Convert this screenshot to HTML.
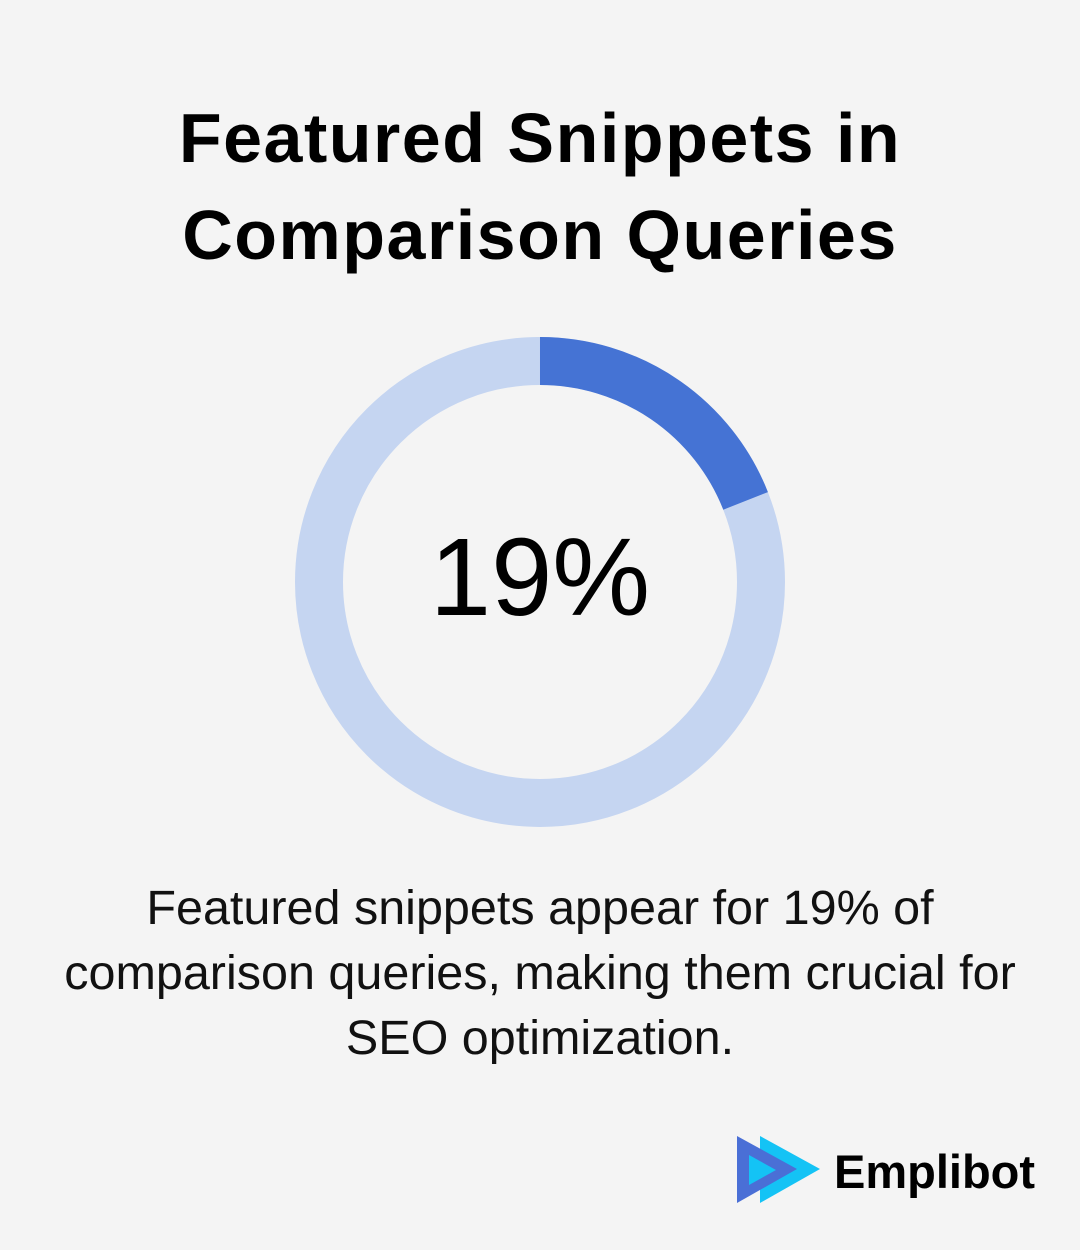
<!DOCTYPE html>
<html><head><meta charset="utf-8"><style>
html,body{margin:0;padding:0}
body{width:1080px;height:1250px;background:#f4f4f4;position:relative;overflow:hidden;font-family:"Liberation Sans",sans-serif;color:#000}
.t{position:absolute;left:0;width:1080px;text-align:center}
</style></head><body>
<div class="t" style="top:90px;font-size:70px;font-weight:bold;line-height:97px;letter-spacing:1.5px">Featured Snippets in<br>Comparison Queries</div>
<svg style="position:absolute;left:0;top:0" width="1080" height="1250">
<circle cx="540" cy="582" r="221" fill="none" stroke="#c5d5f1" stroke-width="48"/>
<path d="M540 361 A221 221 0 0 1 745.6 500.9" fill="none" stroke="#4573d4" stroke-width="48"/>
<text x="540" y="615" text-anchor="middle" font-family="Liberation Sans" font-size="110" fill="#000">19%</text>
<polygon points="760,1136 760,1203 820,1169" fill="#14c3f5"/>
<polygon points="737,1136 737,1203 797,1169" fill="#4a6fd6"/>
<polygon points="749,1155 749,1185 776,1170" fill="#14c3f5"/>
<text x="834" y="1188" font-family="Liberation Sans" font-weight="bold" font-size="47" fill="#000">Emplibot</text>
</svg>
<div class="t" style="top:876px;font-size:48.5px;line-height:65px;color:#111">Featured snippets appear for 19% of<br>comparison queries, making them crucial for<br>SEO optimization.</div>
</body></html>
